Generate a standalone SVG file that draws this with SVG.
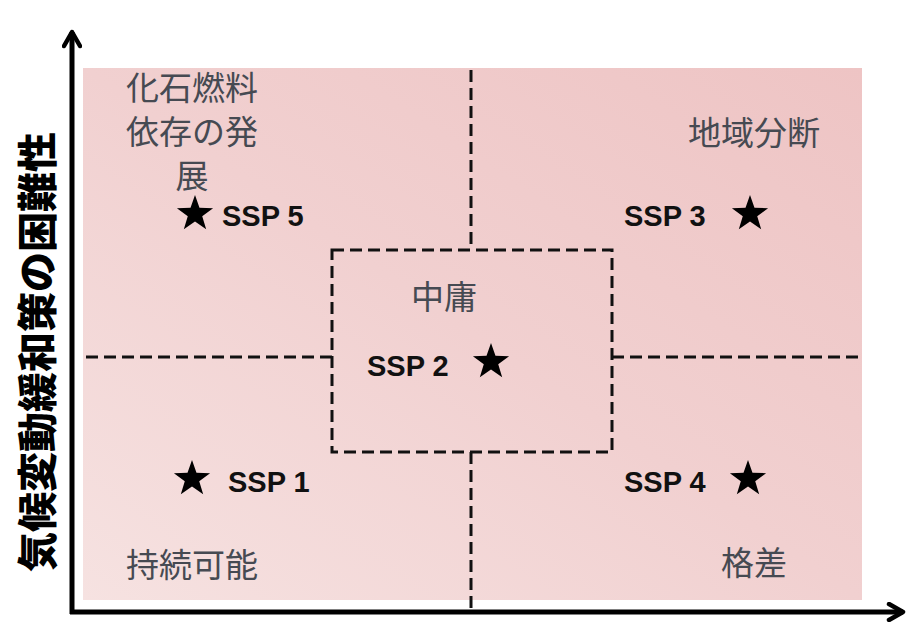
<svg xmlns="http://www.w3.org/2000/svg" width="911" height="638" viewBox="0 0 911 638">
<defs>
<linearGradient id="bg" x1="1" y1="0" x2="0" y2="1">
<stop offset="0" stop-color="#eec4c4"/>
<stop offset="0.5" stop-color="#f1d0d0"/>
<stop offset="1" stop-color="#f6e2e1"/>
</linearGradient>
<marker id="arr" viewBox="0 0 20 20" refX="17" refY="10" markerWidth="20" markerHeight="20" markerUnits="userSpaceOnUse" orient="auto">
<path d="M3,2 L17,10 L3,18" fill="none" stroke="#000" stroke-width="4.5" stroke-linecap="round" stroke-linejoin="round"/>
</marker>
<polygon id="star" points="0,-19 4.47,-6.15 18.07,-5.87 7.23,2.35 11.17,15.37 0,7.6 -11.17,15.37 -7.23,2.35 -18.07,-5.87 -4.47,-6.15" fill="#000"/>
<style>
.lbl{font-family:"Noto Sans CJK JP","Noto Sans",sans-serif;font-size:33px;fill:#464a52}
.ssp{font-family:"Liberation Sans",Arial,sans-serif;font-weight:bold;font-size:29px;fill:#111}
.dash{fill:none;stroke:#111;stroke-width:3;stroke-dasharray:12 6}
.axis{fill:none;stroke:#000;stroke-width:5}
.ytitle{font-family:"Noto Sans CJK JP",sans-serif;font-weight:900;font-size:40px;fill:#000}
</style>
</defs>
<rect x="0" y="0" width="911" height="638" fill="#fff"/>
<rect id="field" x="83" y="68" width="779" height="532" fill="url(#bg)"/>
<g id="connectors">
<line class="dash" x1="471" y1="70" x2="471" y2="250"/>
<line class="dash" x1="471" y1="452" x2="471" y2="612"/>
<line class="dash" x1="86" y1="357" x2="332" y2="357"/>
<line class="dash" x1="612" y1="357" x2="862" y2="357"/>
<line class="axis" x1="72" y1="614" x2="72" y2="32" marker-end="url(#arr)"/>
<line class="axis" x1="70" y1="612" x2="903" y2="612" marker-end="url(#arr)"/>
</g>
<g id="center-box">
<rect class="dash" x="332" y="250" width="280" height="202"/>
<text class="lbl" x="444" y="309" text-anchor="middle">中庸</text>
<text class="ssp" x="367" y="376">SSP 2</text>
<use href="#star" x="491" y="362"/>
</g>
<g id="ssp5">
<text class="lbl" x="192" y="100" text-anchor="middle">化石燃料</text>
<text class="lbl" x="192" y="144" text-anchor="middle">依存の発</text>
<text class="lbl" x="192" y="188" text-anchor="middle">展</text>
<use href="#star" x="195" y="214"/>
<text class="ssp" x="222" y="226">SSP 5</text>
</g>
<g id="ssp3">
<text class="lbl" x="754" y="145" text-anchor="middle">地域分断</text>
<text class="ssp" x="624" y="226">SSP 3</text>
<use href="#star" x="750" y="214"/>
</g>
<g id="ssp1">
<use href="#star" x="192" y="479"/>
<text class="ssp" x="228" y="492">SSP 1</text>
<text class="lbl" x="192" y="577" text-anchor="middle">持続可能</text>
</g>
<g id="ssp4">
<text class="ssp" x="624" y="492">SSP 4</text>
<use href="#star" x="748" y="479"/>
<text class="lbl" x="754" y="575" text-anchor="middle">格差</text>
</g>
<g id="y-title">
<text class="ytitle" transform="translate(52,352) rotate(-90)" text-anchor="middle">気候変動緩和策の困難性</text>
</g>
</svg>
